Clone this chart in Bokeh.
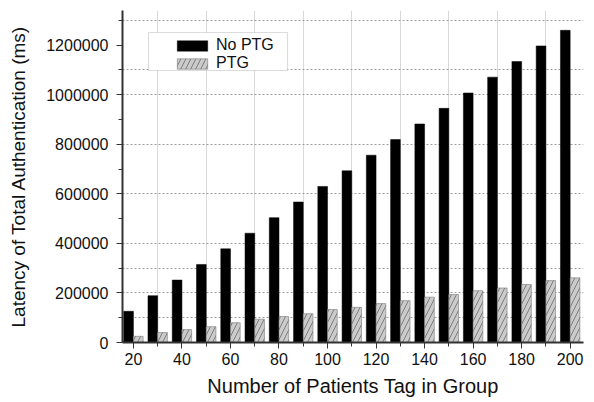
from bokeh.plotting import figure
from bokeh.models import (Range1d, FixedTicker, Legend, LegendItem, BoxAnnotation,
                          ColumnDataSource, BasicTickFormatter)
from bokeh.transform import dodge
from bokeh.embed import file_html
from bokeh.resources import INLINE

# ---- data ----
group_size = [20, 30, 40, 50, 60, 70, 80, 90, 100, 110, 120, 130, 140, 150, 160, 170, 180, 190, 200]
no_ptg = [126000, 189000, 252000, 315000, 378000, 441000, 504000, 567000, 630000, 693000,
          756000, 819000, 882000, 945000, 1007000, 1071000, 1134000, 1197000, 1260000]
ptg = [25000, 40000, 52000, 64000, 80000, 94000, 105000, 116000, 133000, 142000,
       157000, 169000, 183000, 194000, 209000, 220000, 234000, 250000, 261000]

x_ticks = [20, 40, 60, 80, 100, 120, 140, 160, 180, 200]
x_minor_ticks = [30, 50, 70, 90, 110, 130, 150, 170, 190]
y_ticks = [0, 200000, 400000, 600000, 800000, 1000000, 1200000]
y_minor_ticks = [100000, 300000, 500000, 700000, 900000, 1100000, 1300000]
x_grid = [30, 50, 70, 90, 110, 130, 150, 170, 190]
y_grid = [100000, 200000, 300000, 400000, 600000, 800000, 1000000, 1100000, 1300000]

series_labels = ["No PTG", "PTG"]
x_label = "Number of Patients Tag in Group"
y_label = "Latency of Total Authentication (ms)"

FONT = "Liberation Sans"

src = ColumnDataSource(dict(n=group_size, no_ptg=no_ptg, ptg=ptg))

p = figure(width=594, height=400, output_backend="svg", toolbar_location=None,
           x_range=Range1d(15.5, 205.5), y_range=Range1d(0, 1340000),
           min_border_left=122, min_border_right=11, min_border_top=10, min_border_bottom=58)
p.outline_line_color = None
p.background_fill_color = "white"
p.border_fill_color = "white"

r1 = p.vbar(x=dodge("n", -2), top="no_ptg", width=4, bottom=0, source=src,
            fill_color="black", line_color="black", line_width=0.5)
r2 = p.vbar(x=dodge("n", 2), top="ptg", width=4, bottom=0, source=src,
            fill_color="#cbcbcb", line_color="#7a7a7a", line_width=0.6,
            hatch_pattern="/", hatch_color="#5a5a5a", hatch_scale=10, hatch_weight=0.7)

# axes
for ax in (p.xaxis[0], p.yaxis[0]):
    ax.axis_line_width = 2
    ax.axis_line_color = "#333333"
    ax.major_tick_line_color = "#333333"
    ax.minor_tick_line_color = "#333333"
    ax.major_tick_in = 0
    ax.major_tick_out = 6
    ax.minor_tick_in = 0
    ax.minor_tick_out = 4
    ax.major_label_text_font = FONT
    ax.major_label_text_font_size = "16px"
    ax.major_label_text_color = "#111111"
    ax.axis_label_text_font = FONT
    ax.axis_label_text_font_style = "normal"
    ax.axis_label_text_color = "#111111"

p.xaxis.ticker = FixedTicker(ticks=x_ticks, minor_ticks=x_minor_ticks)
p.yaxis.ticker = FixedTicker(ticks=y_ticks, minor_ticks=y_minor_ticks)
p.yaxis.formatter = BasicTickFormatter(use_scientific=False)
p.xaxis.axis_label = x_label
p.yaxis.axis_label = y_label
p.xaxis.axis_label_text_font_size = "20px"
p.yaxis.axis_label_text_font_size = "19px"
p.xaxis.major_label_standoff = 4
p.xaxis.axis_label_standoff = 7
p.yaxis.major_label_standoff = 8
p.yaxis.axis_label_standoff = 14

# grid
p.xgrid.ticker = FixedTicker(ticks=x_grid)
p.ygrid.ticker = FixedTicker(ticks=y_grid)
p.xgrid.grid_line_color = "#d9d9d9"
p.xgrid.grid_line_width = 1
p.ygrid.grid_line_color = "#9c9c9c"
p.ygrid.grid_line_dash = "2 2"
p.ygrid.grid_line_width = 1

# legend frame
box = BoxAnnotation(left=26, right=165, top=310, bottom=272,
                    left_units="screen", right_units="screen",
                    top_units="screen", bottom_units="screen",
                    fill_color="white", fill_alpha=1.0,
                    line_color="#8a8a8a", line_width=1.2)
p.add_layout(box)

legend = Legend(items=[LegendItem(label=series_labels[0], renderers=[r1]),
                       LegendItem(label=series_labels[1], renderers=[r2])],
                location=(51, 270), padding=0, spacing=0, margin=0,
                border_line_alpha=0, background_fill_alpha=0,
                glyph_width=38, glyph_height=13, label_standoff=5,
                label_text_font=FONT, label_text_font_size="16px",
                label_text_color="#111111")
p.add_layout(legend)

open("out.html", "w").write(file_html(p, INLINE))
